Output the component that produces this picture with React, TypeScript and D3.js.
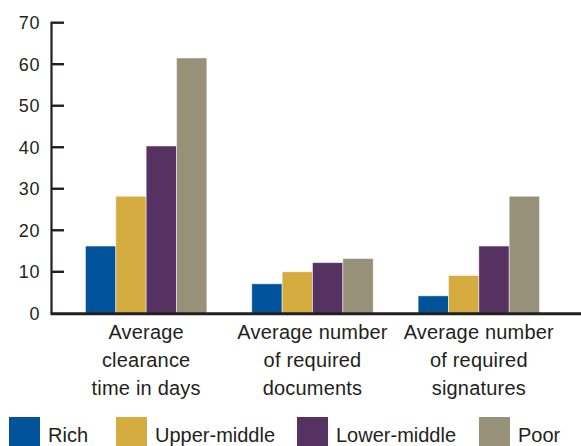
import React from "react";
import * as d3 from "d3";

const categories: string[][] = [
  ["Average", "clearance", "time in days"],
  ["Average number", "of required", "documents"],
  ["Average number", "of required", "signatures"],
];
const seriesNames = ["Rich", "Upper-middle", "Lower-middle", "Poor"];
const rich = [16.2, 7.1, 4.2];
const upperMiddle = [28.2, 10, 9.1];
const lowerMiddle = [40.3, 12.2, 16.2];
const poor = [61.5, 13.2, 28.2];
const yTicks = [0, 10, 20, 30, 40, 50, 60, 70];

const colors = ["#00529b", "#d4ac40", "#563262", "#98917a"];

const W = 581;
const H = 446;
const FONT = "'Liberation Sans', Arial, Helvetica, sans-serif";
const TEXT = "#231f20";

export default function App() {
  const series = [rich, upperMiddle, lowerMiddle, poor];
  const groups = d3.range(categories.length);

  const y = d3.scaleLinear().domain([0, 70]).range([313.3, 22.7]);
  const x0 = d3
    .scaleBand<number>()
    .domain(groups)
    .range([63, 562])
    .paddingInner(0.27)
    .paddingOuter(0.135);
  const x1 = d3
    .scaleBand<number>()
    .domain(d3.range(seriesNames.length))
    .range([0, x0.bandwidth()]);

  const axisX = 51.5;
  const legendX = [9, 116, 297, 479];

  return (
    <svg
      width={W}
      height={H}
      style={{ position: "absolute", left: 0, top: 0, background: "#fff" }}
      fontFamily={FONT}
    >
      {/* bars */}
      {groups.map((g) =>
        series.map((vals, s) => (
          <rect
            key={`${g}-${s}`}
            x={(x0(g) ?? 0) + (x1(s) ?? 0)}
            y={y(vals[g])}
            width={x1.bandwidth()}
            height={y(0) - y(vals[g])}
            fill={colors[s]}
            stroke="#ffffff"
            strokeOpacity={0.6}
            strokeWidth={0.8}
          />
        ))
      )}

      {/* y axis */}
      <line
        x1={axisX}
        x2={axisX}
        y1={y(70) - 1}
        y2={y(0)}
        stroke={TEXT}
        strokeWidth={2.2}
      />
      {yTicks.map((t) => (
        <g key={t}>
          {t > 0 && (
            <line
              x1={axisX}
              x2={64}
              y1={y(t)}
              y2={y(t)}
              stroke={TEXT}
              strokeWidth={2.4}
            />
          )}
          <text
            x={40}
            y={y(t)}
            dy="0.36em"
            textAnchor="end"
            fontSize={18}
            letterSpacing={0.6}
            fill={TEXT}
          >
            {t}
          </text>
        </g>
      ))}
      {/* baseline */}
      <line
        x1={axisX - 1}
        x2={W}
        y1={y(0) + 0.5}
        y2={y(0) + 0.5}
        stroke={TEXT}
        strokeWidth={3}
      />

      {/* category labels */}
      {groups.map((g) => (
        <text
          key={g}
          x={(x0(g) ?? 0) + x0.bandwidth() / 2}
          textAnchor="middle"
          fontSize={20}
          letterSpacing={0.2}
          fill={TEXT}
        >
          {categories[g].map((line, i) => (
            <tspan key={i} x={(x0(g) ?? 0) + x0.bandwidth() / 2} y={339 + i * 28}>
              {line}
            </tspan>
          ))}
        </text>
      ))}

      {/* legend */}
      {seriesNames.map((name, i) => (
        <g key={name}>
          <rect x={legendX[i]} y={417} width={31} height={31} fill={colors[i]} />
          <text x={legendX[i] + 39} y={442} fontSize={20} fill={TEXT}>
            {name}
          </text>
        </g>
      ))}
    </svg>
  );
}
